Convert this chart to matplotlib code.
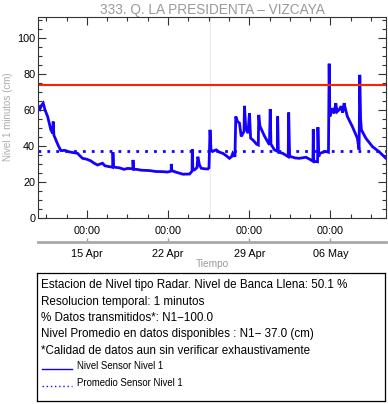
import datetime as dt
import matplotlib
matplotlib.use('Agg')
import matplotlib.pyplot as plt
import matplotlib.dates as mdates
from matplotlib.ticker import FixedLocator, MultipleLocator, NullFormatter
import numpy as np

plt.rcParams['font.family'] = ['Liberation Sans', 'DejaVu Sans']

title = '333. Q. LA PRESIDENTA \u2013 VIZCAYA'

# time as fractional day of April (1 May = 31), level in cm
t_day = [10.79, 10.85, 10.96, 11.09, 11.24, 11.39, 11.62, 11.90, 12.05, 12.10, 12.16,
         12.33, 12.55, 12.76, 13.11, 13.48, 13.80, 14.20, 14.40, 14.63, 15.00,
         15.34, 15.60, 15.92, 16.35, 16.55, 16.90, 17.22, 17.25, 17.31, 17.48,
         17.83, 18.20, 18.52, 18.96, 18.98, 19.04, 19.27, 19.73, 20.42, 20.93,
         21.56, 21.96, 22.27, 22.28, 22.33, 22.65, 23.28, 23.86, 24.07, 24.09,
         24.14, 24.28, 24.50, 24.57, 24.71, 24.86, 25.14, 25.43, 25.53, 25.62,
         25.70, 25.83, 26.15, 26.43, 26.72, 27.03, 27.29, 27.47, 27.58, 27.77,
         27.84, 27.99, 28.16, 28.31, 28.55, 28.59, 28.69, 28.89, 29.02, 29.12,
         29.36, 29.62, 29.78, 29.82, 29.92, 30.31, 30.74, 30.81, 30.87, 31.17,
         31.43, 31.45, 31.51, 31.88, 32.36, 32.40, 32.48, 32.60, 32.97, 33.32,
         33.89, 34.32, 34.49, 34.52, 34.56, 34.69, 34.89, 34.92, 34.99, 35.09,
         35.38, 35.61, 35.83, 35.89, 35.95, 36.17, 36.32, 36.46, 36.58, 36.75,
         36.92, 37.05, 37.18, 37.31, 37.46, 37.89, 38.32, 38.47, 38.53, 38.60,
         38.67, 39.05, 39.62, 40.19, 40.79]
level = [61.5, 61.8, 60.5, 62.5, 63.7, 60.0, 56.3, 48.9, 47.0, 53.5, 46.0,
         43.3, 40.0, 37.4, 37.5, 36.7, 36.3, 35.9, 34.5, 33.1, 32.6,
         31.7, 30.5, 29.4, 30.4, 29.0, 28.5, 28.2, 36.5, 28.3, 28.1,
         27.8, 27.0, 27.5, 27.3, 32.2, 27.0, 27.0, 26.5, 26.3, 25.8,
         25.7, 25.5, 26.0, 30.0, 26.3, 25.5, 24.3, 24.4, 26.0, 38.1,
         27.0, 26.7, 28.0, 34.0, 29.4, 27.6, 27.3, 27.2, 27.8, 48.9,
         38.0, 36.9, 37.8, 36.5, 35.9, 34.5, 33.1, 34.0, 35.9, 34.0,
         56.3, 53.5, 52.6, 45.2, 48.0, 62.2, 50.7, 47.0, 58.1, 44.3,
         43.0, 41.0, 40.5, 57.2, 51.0, 45.5, 40.6, 60.4, 41.0, 37.8,
         37.0, 56.3, 36.5, 35.9, 34.0, 58.5, 34.5, 34.0, 33.3, 33.1,
         33.7, 32.2, 31.5, 49.3, 31.8, 31.3, 31.2, 50.4, 34.0, 35.9,
         36.5, 36.9, 36.5, 85.6, 56.3, 60.9, 58.0, 63.7, 59.0, 60.0,
         62.0, 58.5, 63.7, 60.0, 56.3, 50.7, 44.3, 37.8, 79.4, 55.0,
         48.9, 44.3, 39.6, 36.8, 33.1]

bankfull_level = 73.9
mean_level = 37.0
major_days = [15, 22, 29, 36]
window_days = (10.79, 40.79)
gap_day = 25.62

info_lines = [
    'Estacion de Nivel tipo Radar. Nivel de Banca Llena: 50.1 %',
    'Resolucion temporal: 1 minutos',
    '% Datos transmitidos*: N1\u2212100.0',
    'Nivel Promedio en datos disponibles : N1\u2212 37.0 (cm)',
    '*Calidad de datos aun sin verificar exhaustivamente',
]
legend_labels = ['Nivel Sensor Nivel 1', 'Promedio Sensor Nivel 1']

base = mdates.date2num(dt.datetime(2024, 4, 1)) - 1


def to_num(days):
    return base + np.asarray(days, dtype=float)


fig = plt.figure(figsize=(3.88, 4.04), dpi=100)
W, H = 388, 404
ax = fig.add_axes([38 / W, 1 - 218 / H, 348 / W, 201 / H])

t = to_num(t_day)
ax.axvline(to_num(gap_day), color='#ececec', lw=0.8, zorder=0)
ax.plot(t, level, color='#1500ff', lw=2.0, solid_joinstyle='miter')
ax.axhline(bankfull_level, color='#ff2000', lw=1.5)
ax.axhline(mean_level, color='#1500ff', lw=2.0, linestyle=(0, (1, 2.2)))

ax.set_xlim(to_num(window_days))
ax.set_ylim(0, 111.5)

majors = to_num(major_days)
minors = sorted({m + k * 1.75 for m in majors for k in range(-3, 4) if k != 0})
ax.xaxis.set_major_locator(FixedLocator(majors))
ax.xaxis.set_minor_locator(FixedLocator(minors))
ax.xaxis.set_major_formatter(mdates.DateFormatter('%H:%M'))
ax.xaxis.set_minor_formatter(NullFormatter())
ax.yaxis.set_major_locator(MultipleLocator(20))
ax.yaxis.set_minor_locator(MultipleLocator(5))

ax.tick_params(which='both', direction='in', top=True, right=True,
               labelsize=7.8, color='#333333', width=0.8)
ax.tick_params(which='major', length=6)
ax.tick_params(which='minor', length=3)
ax.tick_params(axis='x', which='major', pad=6)
ax.tick_params(axis='y', which='major', pad=2)
for s in ax.spines.values():
    s.set_color('#333333')
    s.set_linewidth(0.8)

sec = ax.secondary_xaxis(-0.119)
sec.xaxis.set_major_locator(FixedLocator(majors))
sec.xaxis.set_major_formatter(mdates.DateFormatter('%d %b'))
sec.tick_params(direction='in', length=3, color='#a0a0a0', width=1,
                labelsize=7.8, pad=5)
sec.spines['bottom'].set_color('#a8a8a8')
sec.spines['bottom'].set_linewidth(2)

ax.set_title(title, color='#999999', fontsize=9.8, pad=2)
fig.text(8 / W, 1 - 117 / H, 'Nivel 1 minutos (cm)', color='#aaaaaa',
         fontsize=7, rotation=90, ha='center', va='center')
fig.text(212 / W, 1 - 264 / H, 'Tiempo', color='#999999', fontsize=7.3,
         ha='center', va='center')

box = fig.add_axes([37 / W, 1 - 401 / H, 348 / W, 128 / H])
box.set_xticks([])
box.set_yticks([])
box.set_xlim(0, 348)
box.set_ylim(128, 0)
for s in box.spines.values():
    s.set_color('black')
    s.set_linewidth(0.9)

for i, line in enumerate(info_lines):
    box.text(4, 12 + i * 16.5, line, fontsize=8.4, va='center', ha='left')

styles = ['-', (0, (1, 2))]
for i, (lab, ls) in enumerate(zip(legend_labels, styles)):
    y = 93 + i * 17
    box.plot([5, 35], [y + 3, y + 3], color='#1500ff', lw=1.0, linestyle=ls)
    box.text(40, y, lab, fontsize=6.9, va='center', ha='left')

fig.savefig('out.png', dpi=100)
